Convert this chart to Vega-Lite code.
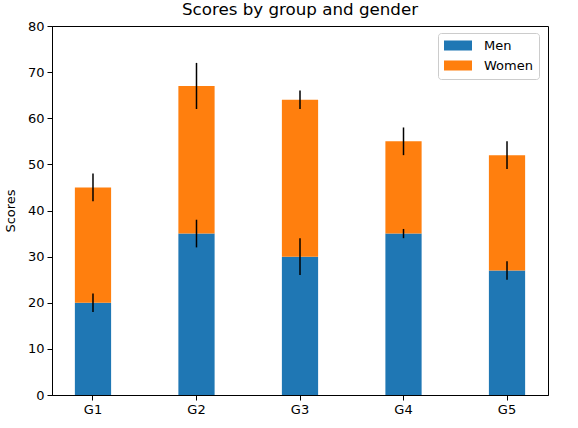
{
  "$schema": "https://vega.github.io/schema/vega-lite/v6.json",
  "width": 496,
  "height": 369,
  "autosize": "none",
  "padding": {"left": 52, "top": 26, "right": 30, "bottom": 33},
  "background": "white",
  "config": {
    "font": "DejaVu Sans",
    "view": {"stroke": "black", "strokeWidth": 1},
    "axis": {
      "domainColor": "black", "tickColor": "black", "labelColor": "black",
      "labelFont": "DejaVu Sans", "labelFontSize": 13, "tickSize": 5, "labelPadding": 3,
      "grid": false, "titleFont": "DejaVu Sans", "titleFontWeight": "normal", "titleFontSize": 13, "titleColor": "black"
    }
  },
  "title": {"text": "Scores by group and gender", "font": "DejaVu Sans", "fontSize": 16.7, "fontWeight": "normal", "color": "black", "offset": 1},
  "data": {"values": [
    {"group": "G1", "gender": "Men", "mean": 20, "std": 2},
    {"group": "G2", "gender": "Men", "mean": 35, "std": 3},
    {"group": "G3", "gender": "Men", "mean": 30, "std": 4},
    {"group": "G4", "gender": "Men", "mean": 35, "std": 1},
    {"group": "G5", "gender": "Men", "mean": 27, "std": 2},
    {"group": "G1", "gender": "Women", "mean": 25, "std": 3},
    {"group": "G2", "gender": "Women", "mean": 32, "std": 5},
    {"group": "G3", "gender": "Women", "mean": 34, "std": 2},
    {"group": "G4", "gender": "Women", "mean": 20, "std": 3},
    {"group": "G5", "gender": "Women", "mean": 25, "std": 3}
  ]},
  "transform": [
    {"stack": "mean", "groupby": ["group"], "sort": [{"field": "gender", "order": "ascending"}], "as": ["y0", "y1"]},
    {"calculate": "datum.y1 - datum.std", "as": "lo"},
    {"calculate": "datum.y1 + datum.std", "as": "hi"}
  ],
  "encoding": {
    "x": {"field": "group", "type": "nominal", "title": null,
      "scale": {"paddingInner": 0.65, "paddingOuter": 0.221},
      "axis": {"labelAngle": 0}}
  },
  "layer": [
    {
      "mark": {"type": "bar"},
      "encoding": {
        "y": {"field": "y0", "type": "quantitative", "title": "Scores",
          "scale": {"domain": [0, 80], "nice": false},
          "axis": {"values": [0, 10, 20, 30, 40, 50, 60, 70, 80], "titlePadding": 10}},
        "y2": {"field": "y1"},
        "color": {"field": "gender", "type": "nominal", "title": null,
          "scale": {"domain": ["Men", "Women"], "range": ["#1f77b4", "#ff7f0e"]},
          "legend": {"orient": "none", "legendX": 386, "legendY": 7,
            "symbolType": "M-1,-0.357L1,-0.357L1,0.357L-1,0.357Z", "symbolSize": 784,
            "symbolStrokeWidth": 0, "labelFontSize": 13, "labelFont": "DejaVu Sans", "labelColor": "black",
            "labelOffset": 12, "padding": 6, "strokeColor": "#cccccc", "cornerRadius": 3,
            "fillColor": "white", "rowPadding": 6, "clipHeight": 13, "labelLimit": 200}}
      }
    },
    {
      "mark": {"type": "rule", "color": "black", "strokeWidth": 1.5},
      "encoding": {
        "y": {"field": "lo", "type": "quantitative"},
        "y2": {"field": "hi"}
      }
    }
  ]
}
